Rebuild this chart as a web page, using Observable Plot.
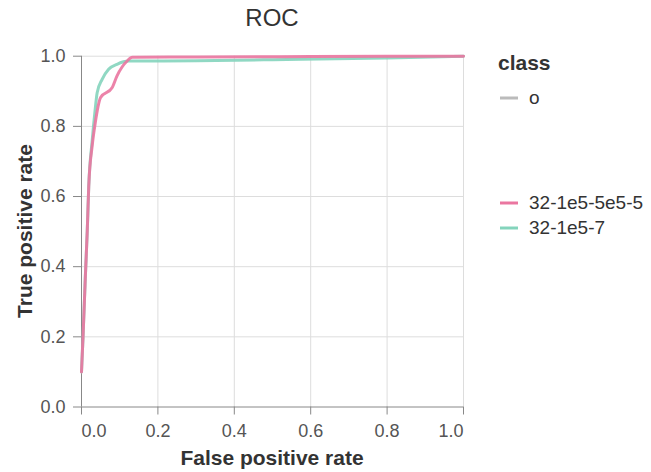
<!DOCTYPE html>
<html>
<head>
<meta charset="utf-8">
<script src="https://cdn.jsdelivr.net/npm/d3@7"></script>
<script src="https://cdn.jsdelivr.net/npm/@observablehq/plot@0.6"></script>
<style>
  html, body { margin: 0; padding: 0; background: #fff; }
  body { font-family: "Liberation Sans", Arial, sans-serif; }
  #wrap { position: relative; width: 651px; height: 472px; }
  #title { position: absolute; left: 81px; width: 382px; top: 4px; text-align: center; font-size: 24px; color: #333; }
  .atitle { position: absolute; font-weight: bold; font-size: 21px; color: #333; white-space: nowrap; line-height: 1; }
  #xtitle { left: 81px; width: 382px; top: 447px; text-align: center; }
  #ytitle { left: 24px; top: 231px; transform: translate(-50%, -50%) rotate(-90deg); }
  #legend { position: absolute; left: 498px; top: 0; }
  .lt { position: absolute; left: 0; top: 52px; font-weight: bold; font-size: 21px; color: #333; white-space: nowrap; line-height: 1; }
  .row { position: absolute; left: 0; white-space: nowrap; font-size: 19px; color: #333; }
  .row svg { position: absolute; left: 0; top: 0; }
  .row span { position: absolute; left: 31px; top: -11px; line-height: 1.2; }
</style>
</head>
<body>
<div id="wrap">
  <div id="chart"></div>
  <div id="title">ROC</div>
  <div id="xtitle" class="atitle">False positive rate</div>
  <div id="ytitle" class="atitle">True positive rate</div>
  <div id="legend"></div>
</div>
<script>
// Data
const classes = ["o", "32-1e5-5e5-5", "32-1e5-7"];
const classColors = ["#bbbbbb", "#ea76a0", "#84d4bc"];

const fprPink = [0, 0.002, 0.004, 0.010, 0.015, 0.019, 0.028, 0.036, 0.050, 0.080, 0.093, 0.120, 0.133, 0.300, 0.600, 1.000];
const tprPink = [0.10, 0.15, 0.20, 0.37, 0.50, 0.63, 0.745, 0.81, 0.882, 0.91, 0.944, 0.987, 0.997, 0.998, 0.999, 1.000];

const fprTeal = [0, 0.002, 0.004, 0.010, 0.015, 0.019, 0.028, 0.035, 0.041, 0.054, 0.071, 0.093, 0.124, 0.300, 0.500, 0.800, 1.000];
const tprTeal = [0.10, 0.15, 0.20, 0.37, 0.50, 0.63, 0.76, 0.84, 0.896, 0.934, 0.963, 0.977, 0.986, 0.987, 0.990, 0.995, 1.000];

const xTicks = [0, 0.2, 0.4, 0.6, 0.8, 1.0];
const yTicks = [0, 0.2, 0.4, 0.6, 0.8, 1.0];

const rows = [];
fprTeal.forEach((f, i) => rows.push({cls: "32-1e5-7", fpr: f, tpr: tprTeal[i]}));
fprPink.forEach((f, i) => rows.push({cls: "32-1e5-5e5-5", fpr: f, tpr: tprPink[i]}));

const fmt = d3.format(".1f");
const tickFont = 18;
const axisOpts = {tickSize: 8, tickFormat: fmt, stroke: "#888", color: "#555", fontSize: tickFont, label: null};

const chart = Plot.plot({
  width: 651,
  height: 472,
  marginLeft: 81,
  marginRight: 188,
  marginTop: 55.7,
  marginBottom: 65.5,
  style: {fontFamily: '"Liberation Sans", Arial, sans-serif', background: "#fff"},
  x: {domain: [0, 1]},
  y: {domain: [0, 1]},
  color: {domain: classes, range: classColors},
  marks: [
    Plot.gridX(xTicks.filter(d => d > 0), {stroke: "#dddddd", strokeOpacity: 1}),
    Plot.gridY(yTicks.filter(d => d > 0), {stroke: "#dddddd", strokeOpacity: 1}),
    Plot.ruleX([0], {stroke: "#888", strokeWidth: 1}),
    Plot.ruleY([0], {stroke: "#888", strokeWidth: 1}),
    Plot.axisY(yTicks, {...axisOpts, tickPadding: 8}),
    Plot.axisX([0], {...axisOpts, tickPadding: 9, textAnchor: "start"}),
    Plot.axisX(xTicks.slice(1, -1), {...axisOpts, tickPadding: 9}),
    Plot.axisX([1], {...axisOpts, tickPadding: 9, textAnchor: "end"}),
    Plot.line(rows, {x: "fpr", y: "tpr", z: "cls", stroke: "cls", strokeWidth: 3, strokeOpacity: 0.9, curve: "monotone-x"})
  ]
});
document.getElementById("chart").appendChild(chart);

// Legend
const legend = document.getElementById("legend");
const lt = document.createElement("div");
lt.className = "lt";
lt.textContent = "class";
legend.appendChild(lt);
const rowY = [98, 203, 228];
classes.forEach((c, i) => {
  const r = document.createElement("div");
  r.className = "row";
  r.style.top = rowY[i] + "px";
  r.innerHTML = `<svg width="22" height="4" style="top:-2px"><line x1="2" x2="20" y1="2" y2="2" stroke="${classColors[i]}" stroke-width="3"/></svg><span>${c}</span>`;
  legend.appendChild(r);
});
</script>
</body>
</html>
